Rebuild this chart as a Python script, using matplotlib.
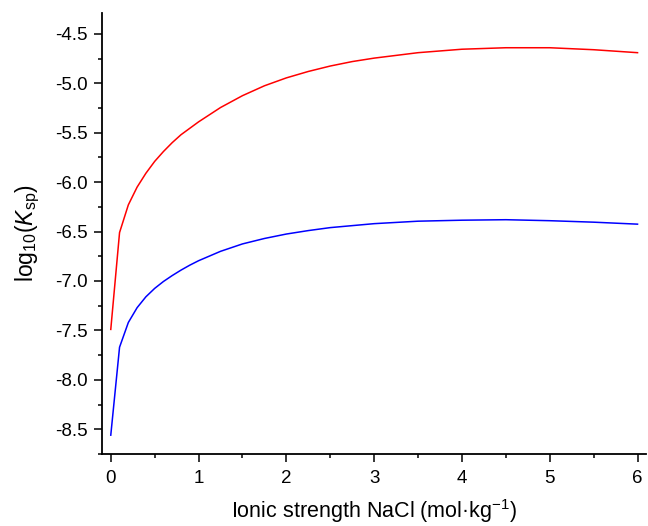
import matplotlib
matplotlib.use('Agg')
import matplotlib.pyplot as plt
from matplotlib.ticker import MultipleLocator

plt.rcParams['font.family'] = ['Liberation Sans', 'DejaVu Sans']
plt.rcParams['mathtext.fontset'] = 'custom'
plt.rcParams['mathtext.rm'] = 'Liberation Sans'
plt.rcParams['mathtext.it'] = 'Liberation Sans:italic'
plt.rcParams['axes.unicode_minus'] = False

# ionic strength (mol/kg)
ionic = [0, 0.1, 0.2, 0.3, 0.4, 0.5, 0.6, 0.7, 0.8, 0.9, 1.0,
         1.25, 1.5, 1.75, 2.0, 2.25, 2.5, 2.75, 3.0, 3.5, 4.0, 4.5, 5.0, 5.5, 6.0]

# log10(Ksp) curves
red_vals = [-7.49, -6.51, -6.23, -6.05, -5.91, -5.79, -5.69, -5.60, -5.52, -5.455, -5.39,
            -5.245, -5.125, -5.025, -4.945, -4.88, -4.825, -4.78, -4.745, -4.69, -4.655,
            -4.64, -4.64, -4.66, -4.69]
blue_vals = [-8.56, -7.67, -7.42, -7.27, -7.16, -7.075, -7.005, -6.945, -6.89, -6.84, -6.795,
             -6.70, -6.625, -6.57, -6.525, -6.49, -6.46, -6.44, -6.42, -6.395, -6.385,
             -6.38, -6.39, -6.405, -6.425]

fig = plt.figure(figsize=(6.48, 5.26), dpi=100)
ax = fig.add_axes([0.1574, 0.137, 0.84, 0.838])

ax.plot(ionic, red_vals, color='#ff0000', lw=1.1)
ax.plot(ionic, blue_vals, color='#0000ff', lw=1.1)

ax.set_xlim(-0.1, 6.1)
ax.set_ylim(-8.75, -4.29)
ax.xaxis.set_major_locator(MultipleLocator(1))
ax.xaxis.set_minor_locator(MultipleLocator(0.5))
ax.yaxis.set_major_locator(MultipleLocator(0.5))
ax.yaxis.set_minor_locator(MultipleLocator(0.25))
ax.yaxis.set_major_formatter(matplotlib.ticker.FormatStrFormatter('%.1f'))

for side in ['top', 'right']:
    ax.spines[side].set_visible(False)
for side in ['left', 'bottom']:
    ax.spines[side].set_linewidth(1.3)

ax.tick_params(which='major', direction='out', length=5.5, width=1.1, labelsize=13.5)
ax.tick_params(axis='x', which='major', pad=6)
ax.tick_params(axis='y', which='major', pad=5)
ax.tick_params(which='minor', direction='out', length=3, width=1.1)

ax.set_xlabel('Ionic strength NaCl (mol·kg$^{-1}$)', fontsize=15.5, labelpad=7)
ax.set_ylabel('log$_{10}$($K_{\\rm sp}$)', fontsize=16.5, labelpad=9)

fig.savefig('out.png', dpi=100)
